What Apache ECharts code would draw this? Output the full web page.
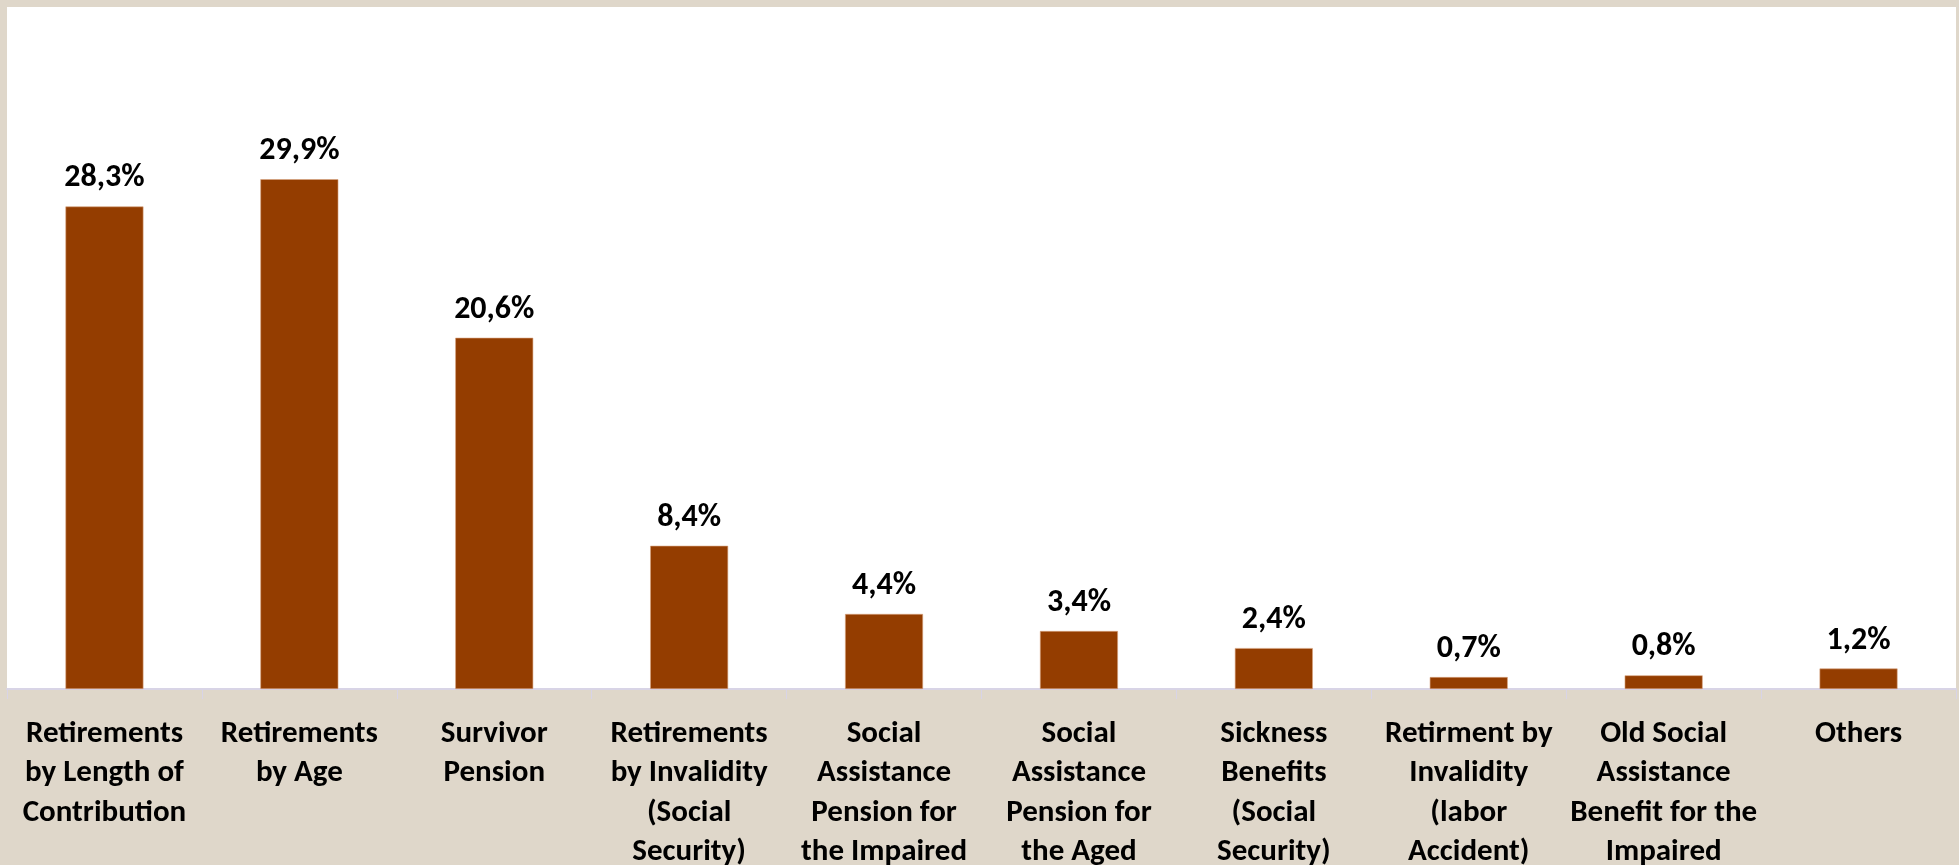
<!DOCTYPE html>
<html>
<head>
<meta charset="utf-8">
<script src="https://cdn.jsdelivr.net/npm/echarts@6/dist/echarts.min.js"></script>
<style>
html,body{margin:0;padding:0;background:#DFD7CA;}
#c{width:1959px;height:865px;}
</style>
</head>
<body>
<div id="c"></div>
<script>
const categories = [
  "Retirements\nby Length of\nContribution",
  "Retirements\nby Age",
  "Survivor\nPension",
  "Retirements\nby Invalidity\n(Social\nSecurity)",
  "Social\nAssistance\nPension for\nthe Impaired",
  "Social\nAssistance\nPension for\nthe Aged",
  "Sickness\nBenefits\n(Social\nSecurity)",
  "Retirment by\nInvalidity\n(labor\nAccident)",
  "Old Social\nAssistance\nBenefit for the\nImpaired",
  "Others"
];
const values = [28.3, 29.9, 20.6, 8.4, 4.4, 3.4, 2.4, 0.7, 0.8, 1.2];

const chart = echarts.init(document.getElementById('c'));
const font = 'Carlito, Lato, "Open Sans", sans-serif';
chart.setOption({
  backgroundColor: '#DFD7CA',
  animation: false,
  grid: {left: 7, right: 3, top: 7, bottom: 176, show: true, backgroundColor: '#FFFFFF', borderWidth: 0,
         containLabel: false, outerBoundsMode: 'none'},
  xAxis: {
    type: 'category',
    data: categories,
    axisLine: {lineStyle: {color: '#D8D4E6', width: 2}},
    axisTick: {show: true, length: 10, lineStyle: {color: '#D8D4E6', width: 1}},
    axisLabel: {
      interval: 0, margin: 25, color: '#000', fontFamily: font, fontWeight: 'bold',
      fontSize: 31, lineHeight: 39.5
    }
  },
  yAxis: {
    type: 'value', min: 0, max: 40, show: false,
    splitLine: {show: false}
  },
  series: [{
    type: 'bar',
    data: values,
    barWidth: '40%',
    itemStyle: {color: '#943D00', borderColor: '#D8A57F', borderWidth: 0.6},
    label: {
      show: true, position: 'top', distance: 12,
      color: '#000', fontFamily: font, fontWeight: 'bold', fontSize: 32,
      formatter: p => p.value.toFixed(1).replace('.', ',') + '%'
    }
  }]
});
</script>
</body>
</html>
